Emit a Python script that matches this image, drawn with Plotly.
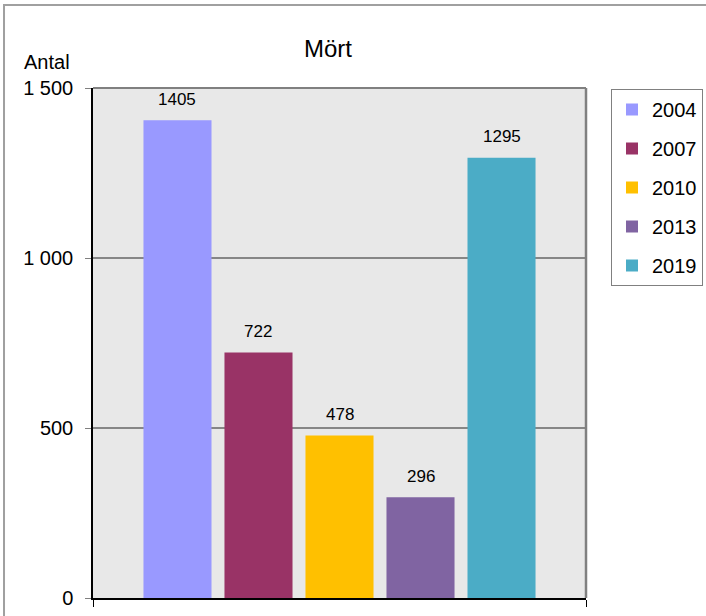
import plotly.graph_objects as go

years = ["2004", "2007", "2010", "2013", "2019"]
antal = [1405, 722, 478, 296, 1295]
colors = ["#9999ff", "#993366", "#ffc000", "#8064a2", "#4bacc6"]
y_ticks = [0, 500, 1000, 1500]
y_labels = ["0", "500", "1 000", "1 500"]

FONT = "Liberation Sans, Arial, sans-serif"

fig = go.Figure()
for i, (yr, v, c) in enumerate(zip(years, antal, colors)):
    fig.add_trace(go.Bar(
        x=[i], y=[v], name=yr, width=0.84,
        marker=dict(color=c, line=dict(width=0)),
        legendgroup=yr, hoverinfo="skip",
    ))
    # värde ovanför stapeln
    fig.add_annotation(x=i, y=v, text=str(v), showarrow=False,
                       yanchor="middle", yshift=21,
                       font=dict(family=FONT, size=17, color="black"))

x_lo, x_hi = -1.043, 5.043

fig.update_layout(
    width=706, height=616,
    margin=dict(l=93, r=120, t=88, b=18, autoexpand=False),
    paper_bgcolor="white",
    plot_bgcolor="#e8e8e8",
    barmode="overlay",
    font=dict(family=FONT, size=20, color="black"),
    showlegend=True,
    legend=dict(
        xref="container", yref="container",
        x=611 / 706, y=1 - 89 / 616, xanchor="left", yanchor="top",
        bordercolor="#808080", borderwidth=1, bgcolor="white",
        font=dict(family=FONT, size=20, color="black"),
        tracegroupgap=10, itemwidth=30,
    ),
    xaxis=dict(
        range=[x_lo, x_hi], showgrid=False, zeroline=False,
        showline=True, linecolor="black", linewidth=1.5,
        tickmode="array", tickvals=[x_lo, x_hi], ticktext=["", ""],
        ticks="outside", ticklen=7, tickcolor="black", tickwidth=1,
        fixedrange=True, automargin=False,
    ),
    yaxis=dict(
        range=[0, 1500], tickmode="array", tickvals=y_ticks, ticktext=y_labels,
        showgrid=True, gridcolor="#868686", gridwidth=1.5, zeroline=False,
        showline=True, linecolor="black", linewidth=1.5,
        ticks="outside", ticklen=6, tickcolor="#808080", ticklabelstandoff=8,
        tickfont=dict(family=FONT, size=20, color="black"),
        fixedrange=True, automargin=False,
    ),
    annotations=list(fig.layout.annotations) + [
        dict(text="Mört", x=0.4767, y=1.078, xref="paper", yref="paper",
             xanchor="center", yanchor="middle", showarrow=False,
             font=dict(family=FONT, size=24, color="black")),
        dict(text="Antal", x=-0.0933, y=1.051, xref="paper", yref="paper",
             xanchor="center", yanchor="middle", showarrow=False,
             font=dict(family=FONT, size=20, color="black")),
    ],
    shapes=[
        # ram runt diagramytan (topp och höger)
        dict(type="line", xref="paper", yref="paper", x0=0, x1=1, y0=1, y1=1,
             line=dict(color="#808080", width=2), layer="above"),
        dict(type="line", xref="paper", yref="paper", x0=1, x1=1, y0=0, y1=1,
             line=dict(color="#808080", width=2.5), layer="above"),
        # yttre ram
        dict(type="rect", xref="paper", yref="paper",
             x0=-0.1805, x1=1.26, y0=-0.07, y1=1.1627,
             line=dict(color="#a0a0a0", width=2), fillcolor="rgba(0,0,0,0)"),
    ],
)

fig.write_html("out.html", config={"displayModeBar": False},
               post_script="document.body.style.margin='0';")
